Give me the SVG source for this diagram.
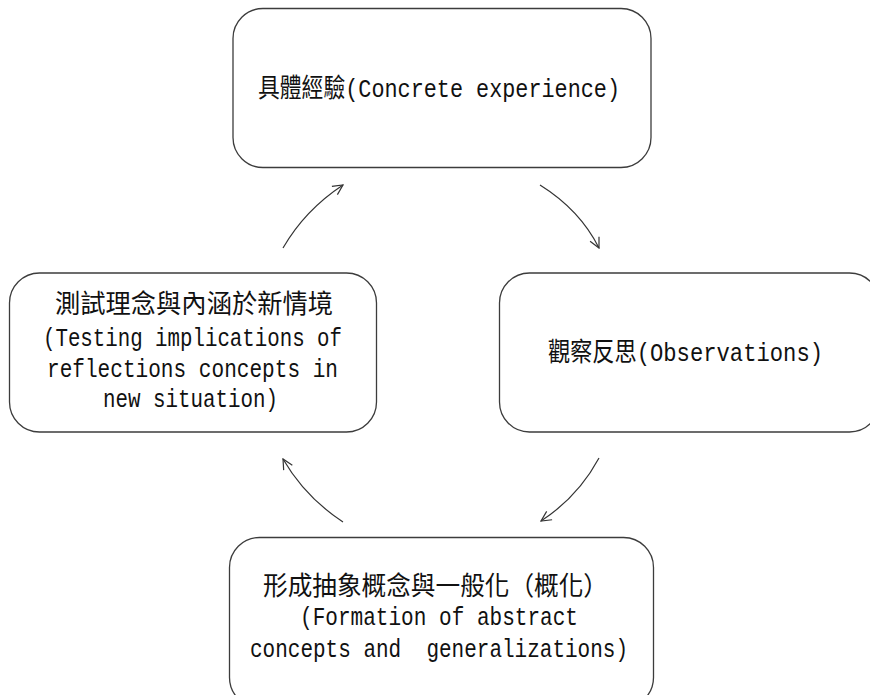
<svg xmlns="http://www.w3.org/2000/svg" width="870" height="695" viewBox="0 0 870 695">
  <style>
    .box { fill: #ffffff; stroke: #3c3c3c; stroke-width: 1.3; }
    .lbl { font-family: "Liberation Mono", "Noto Sans CJK TC", monospace; font-size: 26px; fill: #111111; white-space: pre; }
    .arc { fill: none; stroke: #333333; stroke-width: 1.2; marker-end: url(#open); }
  </style>
  <defs>
    <marker id="open" viewBox="0 0 12 12" refX="11" refY="6" markerWidth="12" markerHeight="12" markerUnits="userSpaceOnUse" orient="auto">
      <path d="M1,1 L11,6 L1,11" fill="none" stroke="#333333" stroke-width="1.2"/>
    </marker>
  </defs>
  <rect width="870" height="695" fill="#ffffff"/>

  <!-- cycle stages -->
  <g id="concrete-experience">
    <rect class="box" x="233" y="8.5" width="418" height="159" rx="30"/>
    <text class="lbl" x="258" y="97" textLength="362" lengthAdjust="spacingAndGlyphs">具體經驗(Concrete experience)</text>
  </g>

  <g id="observations">
    <rect class="box" x="499.5" y="273" width="380" height="159" rx="30"/>
    <text class="lbl" x="548" y="361" textLength="275" lengthAdjust="spacingAndGlyphs">觀察反思(Observations)</text>
  </g>

  <g id="abstract-concepts">
    <rect class="box" x="229.5" y="537.5" width="424" height="170" rx="30"/>
    <text class="lbl" x="263" y="595" textLength="345" lengthAdjust="spacingAndGlyphs">形成抽象概念與一般化（概化）</text>
    <text class="lbl" x="300" y="625" textLength="278" lengthAdjust="spacingAndGlyphs">(Formation of abstract</text>
    <text class="lbl" x="250" y="657" textLength="378" lengthAdjust="spacingAndGlyphs">concepts and  generalizations)</text>
  </g>

  <g id="testing-implications">
    <rect class="box" x="9.5" y="273" width="367" height="159" rx="30"/>
    <text class="lbl" x="55" y="313" textLength="278" lengthAdjust="spacingAndGlyphs">測試理念與內涵於新情境</text>
    <text class="lbl" x="43" y="346" textLength="299" lengthAdjust="spacingAndGlyphs">(Testing implications of</text>
    <text class="lbl" x="47" y="377" textLength="291" lengthAdjust="spacingAndGlyphs">reflections concepts in</text>
    <text class="lbl" x="103" y="407" textLength="175" lengthAdjust="spacingAndGlyphs">new situation)</text>
  </g>

  <!-- connectors -->
  <g id="connectors">
    <path class="arc" d="M283,248 Q305,210 343,185"/>
    <path class="arc" d="M540,185 Q580,210 599,248"/>
    <path class="arc" d="M599,458 Q578,497 541,521"/>
    <path class="arc" d="M343,522 Q305,497 283,459"/>
  </g>
</svg>
